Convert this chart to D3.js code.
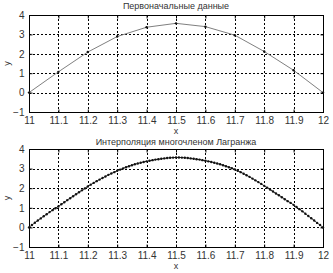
<!DOCTYPE html>
<html>
<head>
<meta charset="utf-8">
<script src="https://cdn.jsdelivr.net/npm/d3@7"></script>
<style>
body { margin: 0; background: #fff; }
text { font-family: "Liberation Sans", Arial, sans-serif; font-size: 10px; fill: #333; }
.grid line { stroke: #000; stroke-dasharray: 2,2; stroke-width: 1; }
.tick line { stroke: #000; }
</style>
</head>
<body>
<script>
var titles = ["Первоначальные данные", "Интерполяция многочленом Лагранжа"];
var xTicks = [11, 11.1, 11.2, 11.3, 11.4, 11.5, 11.6, 11.7, 11.8, 11.9, 12];
var yTicks = [-1, 0, 1, 2, 3, 4];

// original nodes
var nodeX = [11, 11.1, 11.2, 11.3, 11.4, 11.5, 11.6, 11.7, 11.8, 11.9, 12];
var nodeY = [0, 1.07, 2.09, 2.89, 3.37, 3.57, 3.40, 2.96, 2.12, 1.15, 0];

// Lagrange curve, step 0.01 from 11 to 12
var lagY = [
  0, 0.12, 0.24, 0.35, 0.46, 0.57, 0.67, 0.78, 0.88, 0.98,
  1.07, 1.18, 1.28, 1.39, 1.49, 1.59, 1.69, 1.79, 1.89, 1.99,
  2.09, 2.18, 2.27, 2.36, 2.44, 2.52, 2.60, 2.68, 2.75, 2.82,
  2.89, 2.95, 3.01, 3.07, 3.12, 3.17, 3.22, 3.26, 3.30, 3.34,
  3.37, 3.40, 3.43, 3.46, 3.48, 3.50, 3.52, 3.54, 3.55, 3.56,
  3.57, 3.57, 3.56, 3.55, 3.54, 3.52, 3.50, 3.48, 3.46, 3.43,
  3.40, 3.37, 3.34, 3.30, 3.26, 3.22, 3.17, 3.12, 3.07, 3.02,
  2.96, 2.89, 2.82, 2.74, 2.66, 2.58, 2.49, 2.40, 2.31, 2.22,
  2.12, 2.03, 1.93, 1.83, 1.73, 1.64, 1.54, 1.44, 1.34, 1.25,
  1.15, 1.04, 0.93, 0.82, 0.70, 0.58, 0.47, 0.35, 0.23, 0.12,
  0
];
var lagX = lagY.map(function (d, i) { return 11 + i / 100; });

var svg = d3.select("body").append("svg")
    .attr("width", 333)
    .attr("height", 273);

svg.append("rect").attr("width", 333).attr("height", 273).attr("fill", "#fff");

function panel(top, bottom, title, xs, ys, opts) {
    var left = 29, right = 323;
    var x = d3.scaleLinear().domain([11, 12]).range([left, right]);
    var y = d3.scaleLinear().domain([-1, 4]).range([bottom, top]);
    var g = svg.append("g");

    // grid
    var grid = g.append("g").attr("class", "grid");
    grid.selectAll(".gx").data(xTicks.slice(1, -1)).enter().append("line")
        .attr("x1", function (d) { return Math.round(x(d)) + 0.5; })
        .attr("x2", function (d) { return Math.round(x(d)) + 0.5; })
        .attr("y1", top).attr("y2", bottom);
    grid.selectAll(".gy").data(yTicks.slice(1, -1)).enter().append("line")
        .attr("y1", function (d) { return Math.round(y(d)) + 0.5; })
        .attr("y2", function (d) { return Math.round(y(d)) + 0.5; })
        .attr("x1", left).attr("x2", right);

    // box
    g.append("rect")
        .attr("x", left + 0.5).attr("y", top + 0.5)
        .attr("width", right - left).attr("height", bottom - top)
        .attr("fill", "none").attr("stroke", "#000");

    // ticks
    var fmtX = function (d) { return String(+d.toFixed(1)); };
    g.append("g").attr("transform", "translate(0," + (bottom + 0.5) + ")")
        .call(d3.axisBottom(x).tickValues(xTicks).tickSize(-3).tickPadding(4).tickFormat(fmtX))
        .call(function (a) { a.select(".domain").remove(); });
    g.append("g").attr("transform", "translate(0," + (top + 0.5) + ")")
        .call(d3.axisTop(x).tickValues(xTicks).tickSize(-3).tickFormat(""))
        .call(function (a) { a.select(".domain").remove(); });
    g.append("g").attr("transform", "translate(" + (left + 0.5) + ",0)")
        .call(d3.axisLeft(y).tickValues(yTicks).tickSize(-3).tickPadding(5).tickFormat(d3.format("d")))
        .call(function (a) { a.select(".domain").remove(); });
    g.append("g").attr("transform", "translate(" + (right + 0.5) + ",0)")
        .call(d3.axisRight(y).tickValues(yTicks).tickSize(-3).tickFormat(""))
        .call(function (a) { a.select(".domain").remove(); });
    g.selectAll(".tick text").style("font-size", "10px").style("fill", "#333");

    // line and points
    var pts = xs.map(function (d, i) { return [d, ys[i]]; });
    g.append("path")
        .datum(pts)
        .attr("fill", "none")
        .attr("stroke", opts.lineColor)
        .attr("stroke-width", 1)
        .attr("d", d3.line().x(function (d) { return x(d[0]); }).y(function (d) { return y(d[1]); }));
    g.selectAll(".pt").data(pts).enter().append("circle")
        .attr("cx", function (d) { return x(d[0]); })
        .attr("cy", function (d) { return y(d[1]); })
        .attr("r", opts.r)
        .attr("fill", "#111");

    // labels
    g.append("text").attr("x", (left + right) / 2).attr("y", opts.titleY)
        .attr("text-anchor", "middle").style("font-size", "9px").text(title);
    g.append("text").attr("x", (left + right) / 2).attr("y", bottom + 22)
        .attr("text-anchor", "middle").style("font-size", "9px").text("x");
    g.append("text")
        .attr("transform", "translate(10," + ((top + bottom) / 2) + ") rotate(-90)")
        .attr("text-anchor", "middle").style("font-size", "9px").text("y");
}

panel(15, 112, titles[0], nodeX, nodeY, {lineColor: "#808080", r: 1.2, titleY: 9});
panel(149, 247, titles[1], lagX, lagY, {lineColor: "#333", r: 1.2, titleY: 145});
</script>
</body>
</html>
